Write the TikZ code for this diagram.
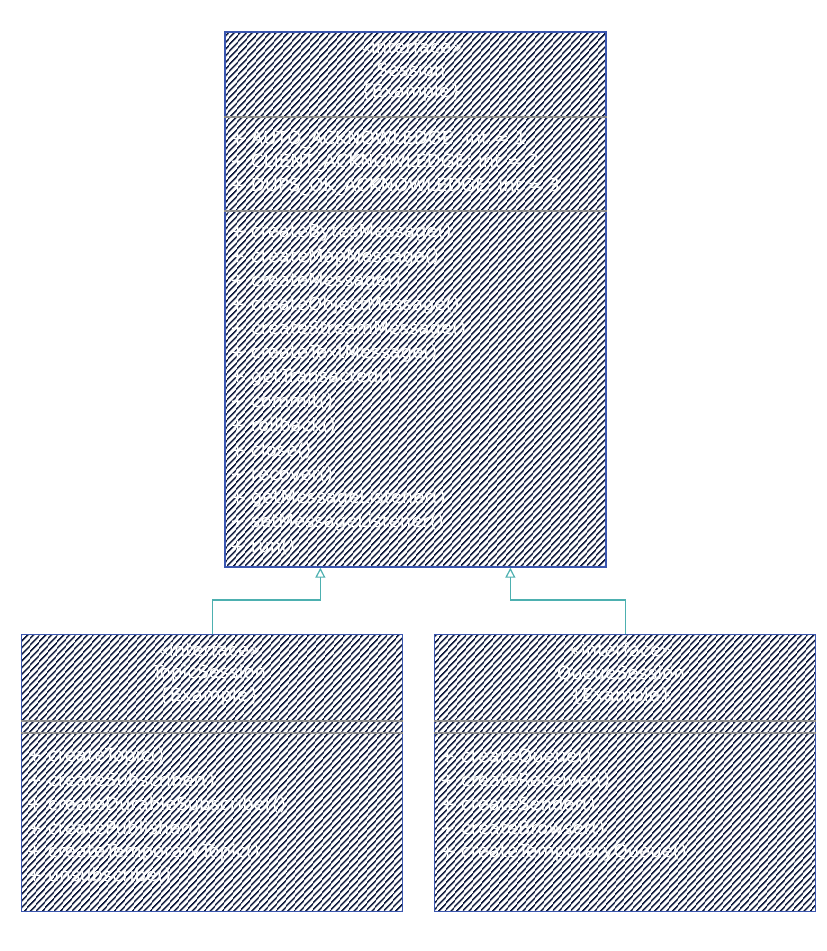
\documentclass[tikz,border=0pt]{standalone}
\usepackage{fontspec}
\setmainfont{DejaVu Sans}
\usetikzlibrary{patterns.meta,arrows.meta}
\definecolor{hatch}{HTML}{0F1A3C}
\definecolor{edgeblue}{HTML}{3A56B0}
\definecolor{sepgray}{HTML}{8C8C8C}
\definecolor{conn}{HTML}{4DB0B0}
\begin{document}
\begin{tikzpicture}[x=1pt,y=-1pt,
 umlbox/.style={draw=edgeblue, line width=1.3pt, pattern={Lines[angle=48,distance=4pt,line width=1.7pt]}, pattern color=hatch, inner sep=0pt, anchor=north west},
 hdr/.style={text=white, font=\fontsize{18}{21}\selectfont, anchor=center, inner sep=0pt},
 mem/.style={text=white, font=\fontsize{18}{21}\selectfont, anchor=west, inner sep=0pt},
 sepline/.style={draw=sepgray, line width=2pt},
 gen/.style={draw=conn, line width=1.2pt, -{Triangle[open,length=10pt,width=10pt,fill=white]}}]
\fill[white] (0,0) rectangle (827,951);
\useasboundingbox (0,0) rectangle (827,951);

% boxes
\node[umlbox, minimum width=381pt, minimum height=535pt] (session) at (224,31) {};
\node[umlbox, minimum width=381pt, minimum height=277pt] (topic) at (21,634) {};
\node[umlbox, minimum width=381pt, minimum height=277pt] (queue) at (434,634) {};

% separators
\draw[sepline] ([yshift=-86pt]session.north west) -- ([yshift=-86pt]session.north east);
\draw[sepline] ([yshift=-180pt]session.north west) -- ([yshift=-180pt]session.north east);
\draw[sepline] ([yshift=-87pt]topic.north west) -- ([yshift=-87pt]topic.north east);
\draw[sepline] ([yshift=-99pt]topic.north west) -- ([yshift=-99pt]topic.north east);
\draw[sepline] ([yshift=-87pt]queue.north west) -- ([yshift=-87pt]queue.north east);
\draw[sepline] ([yshift=-99pt]queue.north west) -- ([yshift=-99pt]queue.north east);

% Session header
\node[hdr] (sh1) at (411,47) {«interface»};
\node[hdr] (sh2) at (411,70) {Session};
\node[hdr] (sh3) at (411,93) {\{Example\}};
% Session attributes
\node[mem] (sa1) at (230,140) {+ AUTO\_ACKNOWLEDGE: int = 1};
\node[mem] (sa2) at (230,163) {+ CLIENT\_ACKNOWLEDGE: int = 2};
\node[mem] (sa3) at (230,187) {+ DUPS\_OK\_ACKNOWLEDGE: int = 3};
% Session methods
\foreach \t [count=\i from 0] in {createBytesMessage(),createMapMessage(),createMessage(),createObjectMessage(),createStreamMessage(),createTextMessage(),getTransacted(),commit(),rollback(),close(),recover(),getMessageListener(),setMessageListener(),run()}
  \node[mem] (sm\i) at (230,233+24.15*\i) {+ \t};

% TopicSession
\node[hdr] (th1) at (209,650) {«interface»};
\node[hdr] (th2) at (209,674) {TopicSession};
\node[hdr] (th3) at (209,697) {\{Example\}};
\foreach \t [count=\i from 0] in {createTopic(),createSubscriber(),createDurableSubscriber(),createPublisher(),createTemporaryTopic(),unsubscribe()}
  \node[mem] (tm\i) at (27,757+23.8*\i) {+ \t};

% QueueSession
\node[hdr] (qh1) at (621,650) {«interface»};
\node[hdr] (qh2) at (621,674) {QueueSession};
\node[hdr] (qh3) at (621,697) {\{Example\}};
\foreach \t [count=\i from 0] in {createQueue(),createReceiver(),createSender(),createBrowser(),createTemporaryQueue()}
  \node[mem] (qm\i) at (440,757+23.8*\i) {+ \t};

% generalizations
\draw[gen] (topic.north) -- ++(0,-34) -| ([xshift=-95pt]session.south);
\draw[gen] (queue.north) -- ++(0,-34) -| ([xshift=95pt]session.south);
\end{tikzpicture}
\end{document}
